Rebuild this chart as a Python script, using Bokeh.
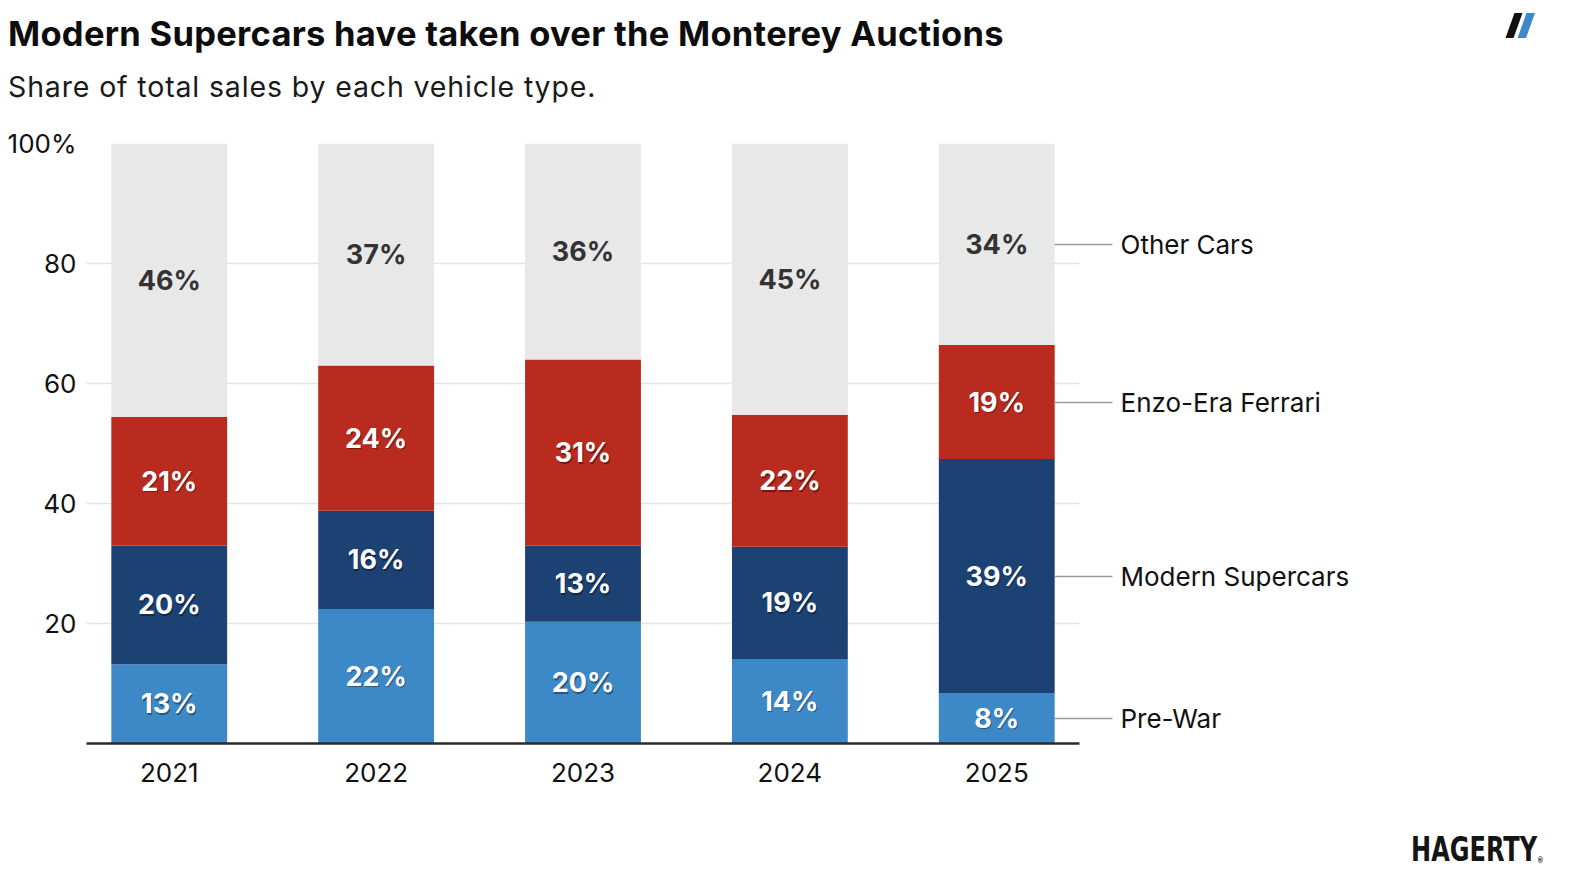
import numpy as np
from bokeh.plotting import figure
from bokeh.models import (ColumnDataSource, Range1d, FixedTicker, LinearAxis, Div)
from bokeh.layouts import column
from bokeh.core.properties import value
from bokeh.embed import file_html
from bokeh.resources import INLINE

# ---------------- data ----------------
years = ["2021", "2022", "2023", "2024", "2025"]
series = ["Pre-War", "Modern Supercars", "Enzo-Era Ferrari", "Other Cars"]
pre_war = [13.2, 22.4, 20.3, 14.1, 8.4]
modern_supercars = [19.8, 16.4, 12.7, 18.7, 39.0]
enzo_ferrari = [21.4, 24.2, 31.0, 22.0, 19.0]
other_cars = [45.6, 37.0, 36.0, 45.2, 33.6]
y_ticks = [20, 40, 60, 80, 100]

title_text = "Modern Supercars have taken over the Monterey Auctions"
subtitle_text = "Share of total sales by each vehicle type."
brand_text = "HAGERTY"

colors = ["#3d88c6", "#1c4173", "#b82b1e", "#e8e8e8"]
label_colors = ["white", "white", "white", "#333333"]

FONT = "Inter"

x_idx = list(range(len(years)))
source = ColumnDataSource(dict(x=x_idx, pre=pre_war, mod=modern_supercars,
                               enzo=enzo_ferrari, other=other_cars))
keys = ["pre", "mod", "enzo", "other"]

# ---------------- header ----------------
header_html = f"""
<div style="position:relative;width:1560px;height:115px;font-family:Inter,sans-serif;">
  <div style="position:absolute;left:8px;top:16.5px;font-size:34.5px;line-height:34.5px;font-weight:700;letter-spacing:0.28px;color:#0d0d0d;white-space:nowrap;">{title_text}</div>
  <div style="position:absolute;left:8px;top:72.5px;font-size:28.5px;line-height:28.5px;font-weight:400;letter-spacing:0.85px;color:#1a1a1a;white-space:nowrap;">{subtitle_text}</div>
  <svg style="position:absolute;left:1493px;top:1px;" width="60" height="42" viewBox="0 0 60 42">
    <polygon points="12.5,37 20.5,37 29.5,12 21.5,12" fill="#111111"/>
    <polygon points="24.5,37 33,37 42,12 33.5,12" fill="#3d89c8"/>
  </svg>
</div>
"""
header = Div(text=header_html, width=1560, height=115, margin=0)

# ---------------- chart ----------------
p = figure(width=1560, height=684, output_backend="svg", toolbar_location=None,
           x_range=Range1d(-0.4, 4.4), y_range=Range1d(0, 100),
           min_border_left=86, min_border_right=481, min_border_top=28,
           min_border_bottom=56, outline_line_color=None,
           background_fill_color="white", border_fill_color="white")

p.vbar_stack(keys, x="x", width=0.56, color=colors, line_color=None, source=source)

p.xgrid.visible = False
p.ygrid.ticker = FixedTicker(ticks=y_ticks)
p.ygrid.grid_line_color = "#e4e4e4"
p.ygrid.grid_line_width = 1.5
p.ygrid.level = "underlay"

p.yaxis.ticker = FixedTicker(ticks=y_ticks)
p.yaxis.major_label_overrides = {100: "100%"}
p.yaxis.axis_line_color = None
p.yaxis.major_tick_line_color = None
p.yaxis.major_tick_out = 0
p.yaxis.major_tick_in = 0
p.yaxis.minor_tick_line_color = None
p.yaxis.major_label_standoff = 10
p.yaxis.major_label_text_font = FONT
p.yaxis.major_label_text_font_size = "26px"
p.yaxis.major_label_text_color = "#111111"

p.xaxis.ticker = FixedTicker(ticks=x_idx)
p.xaxis.major_label_overrides = {i: y for i, y in enumerate(years)}
p.xaxis.axis_line_color = "#2a2a2a"
p.xaxis.axis_line_width = 2.5
p.xaxis.major_tick_line_color = None
p.xaxis.major_tick_out = 0
p.xaxis.major_tick_in = 0
p.xaxis.minor_tick_line_color = None
p.xaxis.major_label_standoff = 19
p.xaxis.major_label_text_font = FONT
p.xaxis.major_label_text_font_size = "26px"
p.xaxis.major_label_text_color = "#111111"

# ---------------- segment labels ----------------
vals = np.array([pre_war, modern_supercars, enzo_ferrari, other_cars])
tops = np.cumsum(vals, axis=0)
mids = tops - vals / 2
for i in range(len(series)):
    texts = [f"{round(v)}%" for v in vals[i]]
    src = ColumnDataSource(dict(x=x_idx, y=list(mids[i]), t=texts))
    if label_colors[i] == "white":
        p.text(x="x", y="y", text="t", source=src, text_align="center",
               text_baseline="middle", text_font=value(FONT), text_font_style="bold",
               text_font_size="27px", text_color="#000000", text_alpha=0.4,
               x_offset=1, y_offset=1.5)
    p.text(x="x", y="y", text="t", source=src, text_align="center",
           text_baseline="middle", text_font=value(FONT), text_font_style="bold",
           text_font_size="27px", text_color=label_colors[i])

# ---------------- right-side series labels: axis ticks at the last bar's segment centres ----------------
last = len(years) - 1
series_pos = [round(float(mids[i][last]), 3) for i in range(len(series))]
right_axis = LinearAxis(ticker=FixedTicker(ticks=series_pos),
                        major_label_overrides={pos: name for pos, name in zip(series_pos, series)},
                        axis_line_color=None, major_tick_line_color="#9a9a9a",
                        major_tick_line_width=1.5, major_tick_in=25, major_tick_out=33,
                        minor_tick_line_color=None, major_label_standoff=8,
                        major_label_text_font=FONT, major_label_text_font_size="26px",
                        major_label_text_color="#111111")
p.add_layout(right_axis, "right")

# ---------------- footer ----------------
footer_html = f"""
<div style="position:relative;width:1560px;height:72px;">
  <div style="position:absolute;left:1410.5px;top:34px;font-family:'Liberation Sans Narrow','DejaVu Sans Condensed',sans-serif;font-size:33px;line-height:33px;font-weight:700;color:#151515;white-space:nowrap;transform:scaleX(0.81);transform-origin:left top;">{brand_text}<span style="font-size:9px;position:relative;top:2px;">&reg;</span></div>
</div>
"""
footer = Div(text=footer_html, width=1560, height=72, margin=0)

layout = column(header, p, footer, spacing=0)
open("out.html", "w").write(file_html(layout, INLINE))
